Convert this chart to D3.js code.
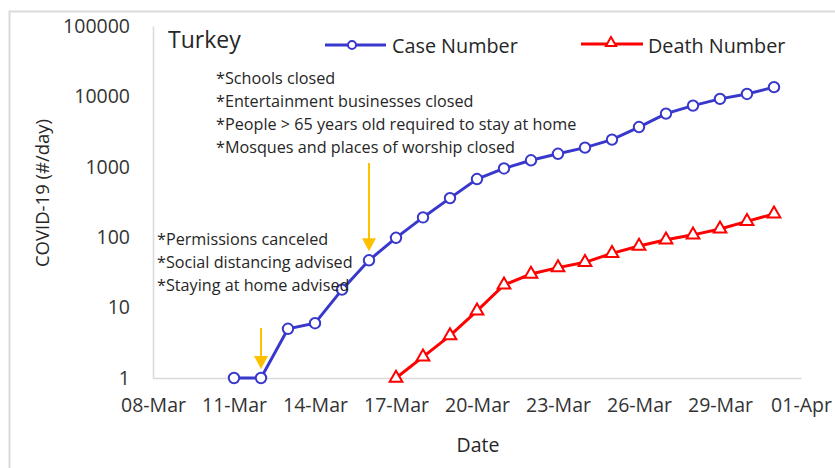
<!DOCTYPE html>
<html>
<head>
<meta charset="utf-8">
<script src="https://cdnjs.cloudflare.com/ajax/libs/d3/7.8.5/d3.min.js"></script>
<style>
body{margin:0;background:#fff;}
text{font-family:"Open Sans","Noto Sans",sans-serif;fill:#262626;}
</style>
</head>
<body>
<div id="chart"></div>
<script>
(function(){
"use strict"

// data
var caseDates = ["2020-03-11","2020-03-12","2020-03-13","2020-03-14","2020-03-15","2020-03-16","2020-03-17",
	"2020-03-18","2020-03-19","2020-03-20","2020-03-21","2020-03-22","2020-03-23","2020-03-24",
	"2020-03-25","2020-03-26","2020-03-27","2020-03-28","2020-03-29","2020-03-30","2020-03-31"],
	caseValues = [1,1,5,6,18,47,98,191,359,670,947,1236,1529,1872,2433,3672,5698,7402,9217,10827,13531],
	deathDates = ["2020-03-17","2020-03-18","2020-03-19","2020-03-20","2020-03-21","2020-03-22","2020-03-23",
	"2020-03-24","2020-03-25","2020-03-26","2020-03-27","2020-03-28","2020-03-29","2020-03-30","2020-03-31"],
	deathValues = [1,2,4,9,21,30,37,44,59,75,92,108,131,168,214],
	xTicks = ["2020-03-08","2020-03-11","2020-03-14","2020-03-17","2020-03-20","2020-03-23","2020-03-26","2020-03-29","2020-04-01"],
	yTicks = [1,10,100,1000,10000,100000],
	notesTop = ["*Schools closed","*Entertainment businesses closed","*People > 65 years old required to stay at home","*Mosques and places of worship closed"],
	notesLow = ["*Permissions canceled","*Social distancing advised","*Staying at home advised"],
	arrowDates = ["2020-03-16","2020-03-12"];

var parse = d3.utcParse("%Y-%m-%d"),
	fmt = d3.utcFormat("%d-%b");

var W = 835, H = 468,
	margin = {top:26, right:34, bottom:90, left:153},
	width = 801 - margin.left,
	height = 378 - margin.top;

var blue = "#3838cc", red = "#ff0000", orange = "#ffc000", grid = "#d9d9d9";

var svg = d3.select('#chart').append('svg')
	.attr('width',W)
	.attr('height',H);

// outer frame
svg.append('rect')
	.attr('x',9.5).attr('y',11.5)
	.attr('width',W+20).attr('height',H+20)
	.style('fill','none').style('stroke',grid).style('stroke-width',2);

var g = svg.append('g').attr('transform','translate('+margin.left+','+margin.top+')');

var x = d3.scaleUtc()
	.domain([parse(xTicks[0]), parse(xTicks[xTicks.length-1])])
	.range([0,width]);

var y = d3.scaleLog()
	.domain([1,100000])
	.range([height,0]);

// axes
var xAxis = g.append('g')
	.attr('transform','translate(0,'+height+')')
	.call(d3.axisBottom(x).tickValues(xTicks.map(parse)).tickFormat(fmt).tickSize(0).tickPadding(27));
xAxis.select('.domain').style('stroke',grid).style('stroke-width',1.5);
xAxis.selectAll('text').style('font-size','19.5px').style('fill','#333').attr('dy','0.36em');

var yAxis = g.append('g')
	.call(d3.axisLeft(y).tickValues(yTicks).tickFormat(d3.format('d')).tickSize(0).tickPadding(23));
yAxis.select('.domain').style('stroke',grid).style('stroke-width',1.5);
yAxis.selectAll('text').style('font-size','19.5px').style('fill','#333');

// axis titles
svg.append('text')
	.attr('transform','translate(49,193) rotate(-90)')
	.attr('text-anchor','middle')
	.style('font-size','18.5px')
	.text('COVID-19 (#/day)');
svg.append('text')
	.attr('x',478).attr('y',452)
	.attr('text-anchor','middle')
	.style('font-size','19.5px')
	.text('Date');

// lines
var line = d3.line()
	.x(function(d){return x(d.date);})
	.y(function(d){return y(d.value);});

var cases = caseDates.map(function(d,i){return {date:parse(d), value:caseValues[i]};}),
	deaths = deathDates.map(function(d,i){return {date:parse(d), value:deathValues[i]};});

g.append('path').datum(cases).attr('d',line)
	.style('fill','none').style('stroke',blue).style('stroke-width',3);
g.append('path').datum(deaths).attr('d',line)
	.style('fill','none').style('stroke',red).style('stroke-width',3);

var tri = d3.symbol().type(d3.symbolTriangle).size(70);

g.selectAll('.cpt').data(cases).enter().append('circle')
	.attr('cx',function(d){return x(d.date);})
	.attr('cy',function(d){return y(d.value);})
	.attr('r',5.2)
	.style('fill','#fff').style('stroke',blue).style('stroke-width',2);

g.selectAll('.dpt').data(deaths).enter().append('path')
	.attr('d',tri)
	.attr('transform',function(d){return 'translate('+x(d.date)+','+y(d.value)+')';})
	.style('fill','#fff').style('stroke',red).style('stroke-width',2);

// arrows
var arrowTop = [163,328];
arrowDates.forEach(function(d,i){
	var ax = x(parse(d)) + margin.left,
		y0 = arrowTop[i],
		tip = (i===0 ? y(caseValues[5]) : y(caseValues[1])) + margin.top - 9;
	svg.append('line')
		.attr('x1',ax).attr('x2',ax)
		.attr('y1',y0).attr('y2',tip-8)
		.style('stroke',orange).style('stroke-width',2);
	svg.append('path')
		.attr('d','M'+(ax-7)+','+(tip-13)+'L'+(ax+7)+','+(tip-13)+'L'+ax+','+tip+'Z')
		.style('fill',orange);
});

// notes
svg.append('g').selectAll('text').data(notesTop).enter().append('text')
	.attr('x',216).attr('y',function(d,i){return 84+i*23;})
	.style('font-size','16.2px')
	.text(function(d){return d;});
svg.append('g').selectAll('text').data(notesLow).enter().append('text')
	.attr('x',157).attr('y',function(d,i){return 245+i*23;})
	.style('font-size','16.2px')
	.text(function(d){return d;});

// title + legend
svg.append('text').attr('x',168).attr('y',48)
	.style('font-size','23px').text('Turkey');

svg.append('line').attr('x1',325).attr('x2',386).attr('y1',45).attr('y2',45)
	.style('stroke',blue).style('stroke-width',3);
svg.append('circle').attr('cx',352).attr('cy',45).attr('r',4)
	.style('fill','#fff').style('stroke',blue).style('stroke-width',2);
svg.append('text').attr('x',392).attr('y',53).style('font-size','19.8px').text('Case Number');

svg.append('line').attr('x1',581).attr('x2',643).attr('y1',44).attr('y2',44)
	.style('stroke',red).style('stroke-width',3);
svg.append('path').attr('d',d3.symbol().type(d3.symbolTriangle).size(45)).attr('transform','translate(611,43)')
	.style('fill','#fff').style('stroke',red).style('stroke-width',2);
svg.append('text').attr('x',648).attr('y',53).style('font-size','19.8px').text('Death Number');

})();
</script>
</body>
</html>
